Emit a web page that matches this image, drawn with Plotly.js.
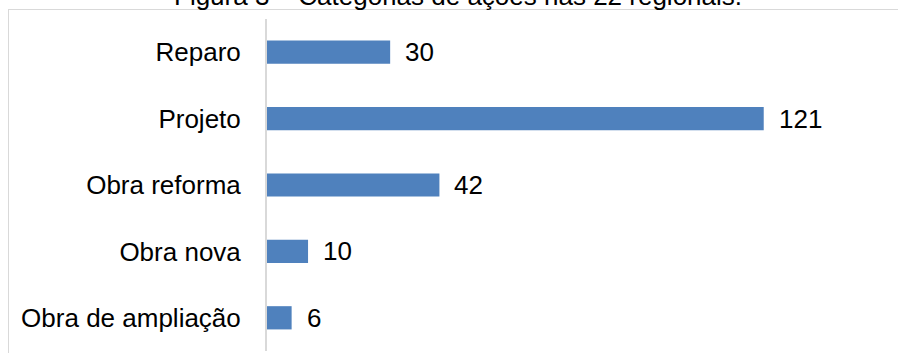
<!DOCTYPE html>
<html>
<head>
<meta charset="utf-8">
<script src="https://cdn.plot.ly/plotly-3.0.1.min.js"></script>
<style>
  html, body { margin: 0; padding: 0; width: 898px; height: 353px; overflow: hidden; background: #ffffff; }
  #frame { position: absolute; left: 8px; top: 9px; width: 1000px; height: 1000px; border: 1.5px solid #d9d9d9; box-sizing: border-box; }
  #chart { position: absolute; left: 0; top: 0; width: 898px; height: 353px; }
</style>
</head>
<body>
<div id="frame"></div>
<div id="chart"></div>
<script>
const categories = ["Reparo", "Projeto", "Obra reforma", "Obra nova", "Obra de ampliação"];
const values = [30, 121, 42, 10, 6];
const titleText = "Figura 3 – Categorias de ações nas 22 regionais.";

const FONT = "Arial, 'Liberation Sans', sans-serif";

const trace = {
  type: "bar",
  orientation: "h",
  x: values,
  y: categories,
  width: 0.35,
  marker: { color: "#4f81bd" },
  hoverinfo: "none"
};

const valueAnnotations = values.map((v, i) => ({
  x: v, y: categories[i], xref: "x", yref: "y",
  text: String(v), showarrow: false, xanchor: "left", yanchor: "middle",
  xshift: 13, font: { family: FONT, size: 26, color: "#000000" }
}));

const layout = {
  width: 898, height: 353,
  margin: { l: 267, r: 30, t: 19, b: 2, pad: 0 },
  paper_bgcolor: "rgba(0,0,0,0)",
  plot_bgcolor: "rgba(0,0,0,0)",
  showlegend: false,
  xaxis: { range: [0, 146.4], visible: false, fixedrange: true },
  yaxis: {
    type: "category",
    categoryorder: "array", categoryarray: categories,
    autorange: "reversed",
    showline: true, linecolor: "#d9d9d9", linewidth: 2,
    ticks: "", showgrid: false, zeroline: false,
    ticklabelstandoff: 19,
    tickfont: { family: FONT, size: 26, color: "#000000" }
  },
  annotations: valueAnnotations.concat([{
    x: 0.317, y: 1.069, xref: "paper", yref: "paper",
    text: titleText, showarrow: false, xanchor: "center", yanchor: "middle",
    font: { family: FONT, size: 26, color: "#000000" }
  }])
};

Plotly.newPlot("chart", [trace], layout, { staticPlot: true, displayModeBar: false });
</script>
</body>
</html>
